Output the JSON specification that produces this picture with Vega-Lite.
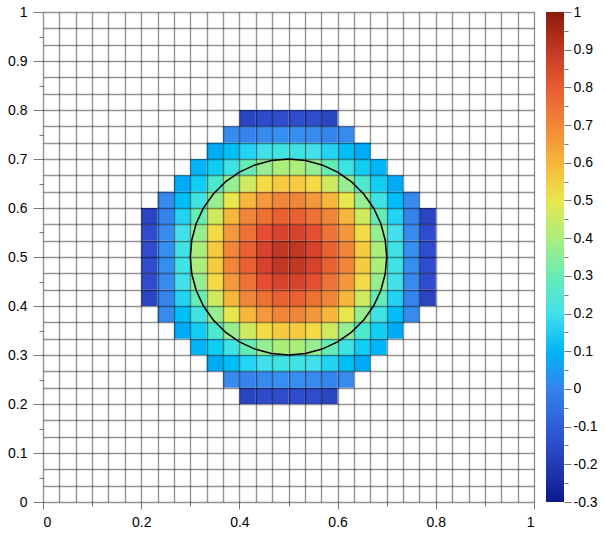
{
  "$schema": "https://vega.github.io/schema/vega-lite/v6.json",
  "width": 491,
  "height": 490,
  "autosize": "none",
  "padding": {"left": 43, "top": 12, "right": 71, "bottom": 32},
  "background": "white",
  "config": {
    "view": {"stroke": null},
    "axis": {"labelFont": "Liberation Sans", "labelFontSize": 14, "labelColor": "black", "tickColor": "#777777", "title": null, "domain": false}
  },
  "datasets": {
    "cells": [
      {"i":12,"j":6,"v":-0.17},{"i":13,"j":6,"v":-0.15},{"i":14,"j":6,"v":-0.15},{"i":15,"j":6,"v":-0.15},{"i":16,"j":6,"v":-0.15},{"i":17,"j":6,"v":-0.17},
      {"i":11,"j":7,"v":0.02},{"i":12,"j":7,"v":0.0},{"i":13,"j":7,"v":0.02},{"i":14,"j":7,"v":0.03},{"i":15,"j":7,"v":0.03},{"i":16,"j":7,"v":0.02},{"i":17,"j":7,"v":0.0},{"i":18,"j":7,"v":0.02},
      {"i":10,"j":8,"v":0.08},{"i":11,"j":8,"v":0.12},{"i":12,"j":8,"v":0.16},{"i":13,"j":8,"v":0.2},{"i":14,"j":8,"v":0.22},{"i":15,"j":8,"v":0.22},{"i":16,"j":8,"v":0.2},{"i":17,"j":8,"v":0.16},{"i":18,"j":8,"v":0.12},{"i":19,"j":8,"v":0.08},
      {"i":9,"j":9,"v":0.1},{"i":10,"j":9,"v":0.15},{"i":11,"j":9,"v":0.22},{"i":12,"j":9,"v":0.3},{"i":13,"j":9,"v":0.36},{"i":14,"j":9,"v":0.4},{"i":15,"j":9,"v":0.4},{"i":16,"j":9,"v":0.36},{"i":17,"j":9,"v":0.3},{"i":18,"j":9,"v":0.22},{"i":19,"j":9,"v":0.15},{"i":20,"j":9,"v":0.1},
      {"i":8,"j":10,"v":0.08},{"i":9,"j":10,"v":0.15},{"i":10,"j":10,"v":0.26},{"i":11,"j":10,"v":0.36},{"i":12,"j":10,"v":0.46},{"i":13,"j":10,"v":0.53},{"i":14,"j":10,"v":0.56},{"i":15,"j":10,"v":0.56},{"i":16,"j":10,"v":0.53},{"i":17,"j":10,"v":0.46},{"i":18,"j":10,"v":0.36},{"i":19,"j":10,"v":0.26},{"i":20,"j":10,"v":0.15},{"i":21,"j":10,"v":0.08},
      {"i":7,"j":11,"v":0.02},{"i":8,"j":11,"v":0.12},{"i":9,"j":11,"v":0.22},{"i":10,"j":11,"v":0.36},{"i":11,"j":11,"v":0.5},{"i":12,"j":11,"v":0.6},{"i":13,"j":11,"v":0.66},{"i":14,"j":11,"v":0.7},{"i":15,"j":11,"v":0.7},{"i":16,"j":11,"v":0.66},{"i":17,"j":11,"v":0.6},{"i":18,"j":11,"v":0.5},{"i":19,"j":11,"v":0.36},{"i":20,"j":11,"v":0.22},{"i":21,"j":11,"v":0.12},{"i":22,"j":11,"v":0.02},
      {"i":6,"j":12,"v":-0.17},{"i":7,"j":12,"v":0.0},{"i":8,"j":12,"v":0.16},{"i":9,"j":12,"v":0.3},{"i":10,"j":12,"v":0.46},{"i":11,"j":12,"v":0.6},{"i":12,"j":12,"v":0.7},{"i":13,"j":12,"v":0.75},{"i":14,"j":12,"v":0.79},{"i":15,"j":12,"v":0.79},{"i":16,"j":12,"v":0.75},{"i":17,"j":12,"v":0.7},{"i":18,"j":12,"v":0.6},{"i":19,"j":12,"v":0.46},{"i":20,"j":12,"v":0.3},{"i":21,"j":12,"v":0.16},{"i":22,"j":12,"v":0.0},{"i":23,"j":12,"v":-0.17},
      {"i":6,"j":13,"v":-0.15},{"i":7,"j":13,"v":0.02},{"i":8,"j":13,"v":0.2},{"i":9,"j":13,"v":0.36},{"i":10,"j":13,"v":0.53},{"i":11,"j":13,"v":0.66},{"i":12,"j":13,"v":0.75},{"i":13,"j":13,"v":0.83},{"i":14,"j":13,"v":0.86},{"i":15,"j":13,"v":0.86},{"i":16,"j":13,"v":0.83},{"i":17,"j":13,"v":0.75},{"i":18,"j":13,"v":0.66},{"i":19,"j":13,"v":0.53},{"i":20,"j":13,"v":0.36},{"i":21,"j":13,"v":0.2},{"i":22,"j":13,"v":0.02},{"i":23,"j":13,"v":-0.15},
      {"i":6,"j":14,"v":-0.15},{"i":7,"j":14,"v":0.03},{"i":8,"j":14,"v":0.22},{"i":9,"j":14,"v":0.4},{"i":10,"j":14,"v":0.56},{"i":11,"j":14,"v":0.7},{"i":12,"j":14,"v":0.79},{"i":13,"j":14,"v":0.86},{"i":14,"j":14,"v":0.9},{"i":15,"j":14,"v":0.9},{"i":16,"j":14,"v":0.86},{"i":17,"j":14,"v":0.79},{"i":18,"j":14,"v":0.7},{"i":19,"j":14,"v":0.56},{"i":20,"j":14,"v":0.4},{"i":21,"j":14,"v":0.22},{"i":22,"j":14,"v":0.03},{"i":23,"j":14,"v":-0.15},
      {"i":6,"j":15,"v":-0.15},{"i":7,"j":15,"v":0.03},{"i":8,"j":15,"v":0.22},{"i":9,"j":15,"v":0.4},{"i":10,"j":15,"v":0.56},{"i":11,"j":15,"v":0.7},{"i":12,"j":15,"v":0.79},{"i":13,"j":15,"v":0.86},{"i":14,"j":15,"v":0.9},{"i":15,"j":15,"v":0.9},{"i":16,"j":15,"v":0.86},{"i":17,"j":15,"v":0.79},{"i":18,"j":15,"v":0.7},{"i":19,"j":15,"v":0.56},{"i":20,"j":15,"v":0.4},{"i":21,"j":15,"v":0.22},{"i":22,"j":15,"v":0.03},{"i":23,"j":15,"v":-0.15},
      {"i":6,"j":16,"v":-0.15},{"i":7,"j":16,"v":0.02},{"i":8,"j":16,"v":0.2},{"i":9,"j":16,"v":0.36},{"i":10,"j":16,"v":0.53},{"i":11,"j":16,"v":0.66},{"i":12,"j":16,"v":0.75},{"i":13,"j":16,"v":0.83},{"i":14,"j":16,"v":0.86},{"i":15,"j":16,"v":0.86},{"i":16,"j":16,"v":0.83},{"i":17,"j":16,"v":0.75},{"i":18,"j":16,"v":0.66},{"i":19,"j":16,"v":0.53},{"i":20,"j":16,"v":0.36},{"i":21,"j":16,"v":0.2},{"i":22,"j":16,"v":0.02},{"i":23,"j":16,"v":-0.15},
      {"i":6,"j":17,"v":-0.17},{"i":7,"j":17,"v":0.0},{"i":8,"j":17,"v":0.16},{"i":9,"j":17,"v":0.3},{"i":10,"j":17,"v":0.46},{"i":11,"j":17,"v":0.6},{"i":12,"j":17,"v":0.7},{"i":13,"j":17,"v":0.75},{"i":14,"j":17,"v":0.79},{"i":15,"j":17,"v":0.79},{"i":16,"j":17,"v":0.75},{"i":17,"j":17,"v":0.7},{"i":18,"j":17,"v":0.6},{"i":19,"j":17,"v":0.46},{"i":20,"j":17,"v":0.3},{"i":21,"j":17,"v":0.16},{"i":22,"j":17,"v":0.0},{"i":23,"j":17,"v":-0.17},
      {"i":7,"j":18,"v":0.02},{"i":8,"j":18,"v":0.12},{"i":9,"j":18,"v":0.22},{"i":10,"j":18,"v":0.36},{"i":11,"j":18,"v":0.5},{"i":12,"j":18,"v":0.6},{"i":13,"j":18,"v":0.66},{"i":14,"j":18,"v":0.7},{"i":15,"j":18,"v":0.7},{"i":16,"j":18,"v":0.66},{"i":17,"j":18,"v":0.6},{"i":18,"j":18,"v":0.5},{"i":19,"j":18,"v":0.36},{"i":20,"j":18,"v":0.22},{"i":21,"j":18,"v":0.12},{"i":22,"j":18,"v":0.02},
      {"i":8,"j":19,"v":0.08},{"i":9,"j":19,"v":0.15},{"i":10,"j":19,"v":0.26},{"i":11,"j":19,"v":0.36},{"i":12,"j":19,"v":0.46},{"i":13,"j":19,"v":0.53},{"i":14,"j":19,"v":0.56},{"i":15,"j":19,"v":0.56},{"i":16,"j":19,"v":0.53},{"i":17,"j":19,"v":0.46},{"i":18,"j":19,"v":0.36},{"i":19,"j":19,"v":0.26},{"i":20,"j":19,"v":0.15},{"i":21,"j":19,"v":0.08},
      {"i":9,"j":20,"v":0.1},{"i":10,"j":20,"v":0.15},{"i":11,"j":20,"v":0.22},{"i":12,"j":20,"v":0.3},{"i":13,"j":20,"v":0.36},{"i":14,"j":20,"v":0.4},{"i":15,"j":20,"v":0.4},{"i":16,"j":20,"v":0.36},{"i":17,"j":20,"v":0.3},{"i":18,"j":20,"v":0.22},{"i":19,"j":20,"v":0.15},{"i":20,"j":20,"v":0.1},
      {"i":10,"j":21,"v":0.08},{"i":11,"j":21,"v":0.12},{"i":12,"j":21,"v":0.16},{"i":13,"j":21,"v":0.2},{"i":14,"j":21,"v":0.22},{"i":15,"j":21,"v":0.22},{"i":16,"j":21,"v":0.2},{"i":17,"j":21,"v":0.16},{"i":18,"j":21,"v":0.12},{"i":19,"j":21,"v":0.08},
      {"i":11,"j":22,"v":0.02},{"i":12,"j":22,"v":0.0},{"i":13,"j":22,"v":0.02},{"i":14,"j":22,"v":0.03},{"i":15,"j":22,"v":0.03},{"i":16,"j":22,"v":0.02},{"i":17,"j":22,"v":0.0},{"i":18,"j":22,"v":0.02},
      {"i":12,"j":23,"v":-0.17},{"i":13,"j":23,"v":-0.15},{"i":14,"j":23,"v":-0.15},{"i":15,"j":23,"v":-0.15},{"i":16,"j":23,"v":-0.15},{"i":17,"j":23,"v":-0.17}
    ],
    "circle": [
      {"k":0,"x":0.7,"y":0.5},{"k":1,"x":0.69696,"y":0.53473},{"k":2,"x":0.68794,"y":0.5684},{"k":3,"x":0.67321,"y":0.6},{"k":4,"x":0.65321,"y":0.62856},{"k":5,"x":0.62856,"y":0.65321},{"k":6,"x":0.6,"y":0.67321},{"k":7,"x":0.5684,"y":0.68794},{"k":8,"x":0.53473,"y":0.69696},{"k":9,"x":0.5,"y":0.7},
      {"k":10,"x":0.46527,"y":0.69696},{"k":11,"x":0.4316,"y":0.68794},{"k":12,"x":0.4,"y":0.67321},{"k":13,"x":0.37144,"y":0.65321},{"k":14,"x":0.34679,"y":0.62856},{"k":15,"x":0.32679,"y":0.6},{"k":16,"x":0.31206,"y":0.5684},{"k":17,"x":0.30304,"y":0.53473},{"k":18,"x":0.3,"y":0.5},
      {"k":19,"x":0.30304,"y":0.46527},{"k":20,"x":0.31206,"y":0.4316},{"k":21,"x":0.32679,"y":0.4},{"k":22,"x":0.34679,"y":0.37144},{"k":23,"x":0.37144,"y":0.34679},{"k":24,"x":0.4,"y":0.32679},{"k":25,"x":0.4316,"y":0.31206},{"k":26,"x":0.46527,"y":0.30304},{"k":27,"x":0.5,"y":0.3},
      {"k":28,"x":0.53473,"y":0.30304},{"k":29,"x":0.5684,"y":0.31206},{"k":30,"x":0.6,"y":0.32679},{"k":31,"x":0.62856,"y":0.34679},{"k":32,"x":0.65321,"y":0.37144},{"k":33,"x":0.67321,"y":0.4},{"k":34,"x":0.68794,"y":0.4316},{"k":35,"x":0.69696,"y":0.46527},{"k":36,"x":0.7,"y":0.5}
    ]
  },
  "resolve": {"scale": {"x": "independent", "y": "independent"}, "axis": {"x": "independent", "y": "independent"}},
  "layer": [
    {
      "data": {"name": "cells"},
      "mark": {"type": "rect", "strokeWidth": 0},
      "encoding": {
        "x": {"field": "i", "type": "ordinal", "axis": null,
              "scale": {"domain": [0,1,2,3,4,5,6,7,8,9,10,11,12,13,14,15,16,17,18,19,20,21,22,23,24,25,26,27,28,29], "paddingInner": 0, "paddingOuter": 0}},
        "y": {"field": "j", "type": "ordinal", "axis": null,
              "scale": {"domain": [29,28,27,26,25,24,23,22,21,20,19,18,17,16,15,14,13,12,11,10,9,8,7,6,5,4,3,2,1,0], "paddingInner": 0, "paddingOuter": 0}},
        "color": {"field": "v", "type": "quantitative",
          "scale": {"domain": [-0.3,-0.1375,0.025,0.1875,0.35,0.5125,0.675,0.8375,1],
                    "range": ["#0a1a8c","#3050d0","#3a8cf0","#48def0","#92ee96","#f2e44a","#f2903e","#e44a32","#8a1a0a"]},
          "legend": {"orient": "none", "legendX": 503, "legendY": 0, "direction": "vertical", "gradientLength": 490, "gradientThickness": 18, "title": null, "labelExpr": "''", "padding": 0, "gradientStrokeWidth": 0}}
      }
    },
    {
      "data": {"name": "circle"},
      "mark": {"type": "line", "color": "black", "strokeWidth": 1.5},
      "encoding": {
        "x": {"field": "x", "type": "quantitative", "scale": {"domain": [0, 1], "nice": false, "zero": false},
              "axis": {"orient": "bottom", "values": [0,0.03333,0.06667,0.1,0.13333,0.16667,0.2,0.23333,0.26667,0.3,0.33333,0.36667,0.4,0.43333,0.46667,0.5,0.53333,0.56667,0.6,0.63333,0.66667,0.7,0.73333,0.76667,0.8,0.83333,0.86667,0.9,0.93333,0.96667,1],
                       "grid": true, "gridColor": "black", "gridOpacity": 0.42, "gridWidth": 1.4, "ticks": false, "labels": false, "zindex": 1}},
        "y": {"field": "y", "type": "quantitative", "scale": {"domain": [0, 1], "nice": false, "zero": false},
              "axis": {"orient": "left", "values": [0,0.03333,0.06667,0.1,0.13333,0.16667,0.2,0.23333,0.26667,0.3,0.33333,0.36667,0.4,0.43333,0.46667,0.5,0.53333,0.56667,0.6,0.63333,0.66667,0.7,0.73333,0.76667,0.8,0.83333,0.86667,0.9,0.93333,0.96667,1],
                       "grid": true, "gridColor": "black", "gridOpacity": 0.42, "gridWidth": 1.4, "ticks": false, "labels": false, "zindex": 1}},
        "order": {"field": "k", "type": "quantitative"}
      }
    },
    {
      "data": {"name": "circle"},
      "mark": {"type": "point", "opacity": 0},
      "encoding": {
        "x": {"field": "x", "type": "quantitative", "scale": {"domain": [0, 1], "nice": false, "zero": false},
              "axis": {"orient": "bottom", "values": [0,0.1,0.2,0.3,0.4,0.5,0.6,0.7,0.8,0.9,1], "grid": false,
                       "labelExpr": "round(datum.value*10) % 2 == 0 ? toString(datum.value) : ''",
                       "tickSize": {"condition": {"test": "round(datum.value*10) % 2 == 0", "value": 7}, "value": 4},
                       "labelPadding": 6}},
        "y": {"field": "y", "type": "quantitative", "scale": {"domain": [0, 1], "nice": false, "zero": false},
              "axis": {"orient": "left", "values": [0,0.05,0.1,0.15,0.2,0.25,0.3,0.35,0.4,0.45,0.5,0.55,0.6,0.65,0.7,0.75,0.8,0.85,0.9,0.95,1], "grid": false,
                       "labelExpr": "round(datum.value*20) % 2 == 0 ? toString(datum.value) : ''",
                       "tickSize": {"condition": {"test": "round(datum.value*20) % 2 == 0", "value": 10}, "value": 4},
                       "labelPadding": 6}}
      }
    },
    {
      "data": {"name": "cells"},
      "mark": {"type": "point", "opacity": 0},
      "encoding": {
        "y": {"field": "v", "type": "quantitative", "scale": {"domain": [-0.3, 1], "nice": false, "zero": false},
              "axis": {"orient": "right", "offset": 30, "values": [-0.3,-0.25,-0.2,-0.15,-0.1,-0.05,0,0.05,0.1,0.15,0.2,0.25,0.3,0.35,0.4,0.45,0.5,0.55,0.6,0.65,0.7,0.75,0.8,0.85,0.9,0.95,1], "grid": false,
                       "labelExpr": "round(datum.value*20) % 2 == 0 ? toString(datum.value) : ''",
                       "tickSize": {"condition": {"test": "round(datum.value*20) % 2 == 0", "value": 7}, "value": 4},
                       "labelPadding": 2}}
      }
    }
  ]
}
